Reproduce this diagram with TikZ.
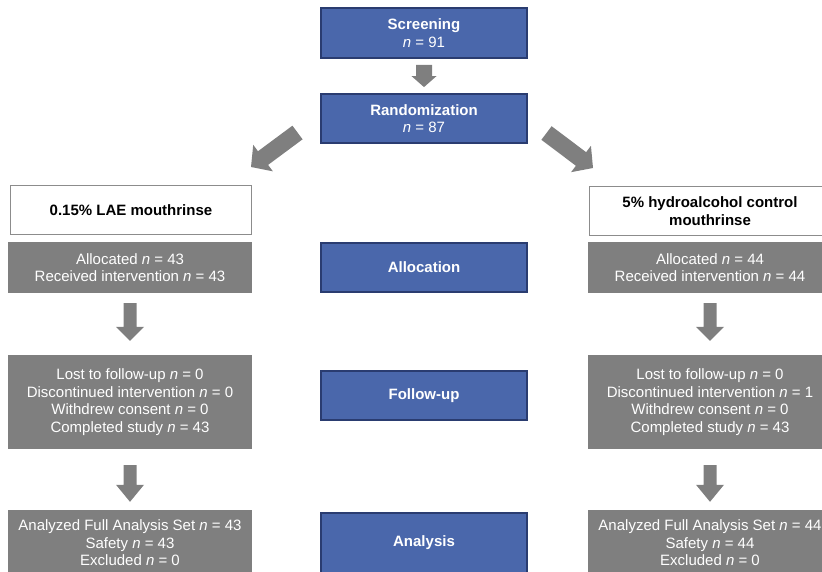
\documentclass[tikz,border=0pt]{standalone}
\usepackage{fontspec}
\setmainfont{Liberation Sans}
\usetikzlibrary{calc}
\definecolor{bluefill}{RGB}{74,103,171}
\definecolor{blueedge}{RGB}{42,60,112}
\definecolor{boxgray}{RGB}{127,127,127}
\definecolor{edgegray}{RGB}{140,140,140}
\newcommand\nn{\textit{n}}
\newcommand\blockarr[5]{%
  \coordinate (ba-b) at ($(#2)!#5!(#1)$);
  \fill[boxgray] ($(#1)!#3!90:(#2)$) -- ($(ba-b)!#3!90:(#2)$) -- ($(ba-b)!#4!90:(#2)$)
    -- (#2) -- ($(ba-b)!#4!-90:(#2)$) -- ($(ba-b)!#3!-90:(#2)$) -- ($(#1)!#3!-90:(#2)$) -- cycle;
}
\begin{document}
\begin{tikzpicture}[x=1pt,y=-1pt,
  every node/.style={font=\fontsize{15}{17.5}\selectfont, align=center, inner sep=0pt},
  stagebox/.style={fill=bluefill, draw=blueedge, line width=1.8pt, text=white,
    minimum width=206pt},
  armhead/.style={fill=white, draw=edgegray, line width=1.6pt, minimum width=241pt,
    minimum height=49pt, font=\fontsize{15}{17.5}\selectfont\bfseries},
  graybox/.style={fill=boxgray, text=white, minimum width=244pt}
]
\useasboundingbox (0,0) rectangle (822,571);
\clip (0,0) rectangle (822,571);

% central column
\node[stagebox, minimum height=50pt] (screen) at (424,33) {\textbf{Screening}\\\nn{} = 91};
\node[stagebox, minimum height=49pt] (rand) at (424,118.5) {\textbf{Randomization}\\\nn{} = 87};
\node[stagebox, minimum height=49pt] (alloc) at (424,267.5) {\textbf{Allocation}};
\node[stagebox, minimum height=49pt] (follow) at (424,395.5) {\textbf{Follow-up}};
\node[stagebox, minimum height=60pt] (anal) at (424,543) {\textbf{Analysis}};

% left arm
\node[armhead] (lhead) at (131,210) {0.15\% LAE mouthrinse};
\node[graybox, minimum height=51pt] (lalloc) at (130,267.5) {Allocated \nn{} = 43\\Received intervention \nn{} = 43};
\node[graybox, minimum height=94pt] (lfollow) at (130,402) {Lost to follow-up \nn{} = 0\\Discontinued intervention \nn{} = 0\\Withdrew consent \nn{} = 0\\Completed study \nn{} = 43};
\node[graybox, minimum height=66pt] (lanal) at (130,543) {Analyzed Full Analysis Set \nn{} = 43\\Safety \nn{} = 43\\Excluded \nn{} = 0};

% right arm
\node[armhead] (rhead) at (710,211) {5\% hydroalcohol control\\mouthrinse};
\node[graybox, minimum height=51pt] (ralloc) at (710,267.5) {Allocated \nn{} = 44\\Received intervention \nn{} = 44};
\node[graybox, minimum height=94pt] (rfollow) at (710,402) {Lost to follow-up \nn{} = 0\\Discontinued intervention \nn{} = 1\\Withdrew consent \nn{} = 0\\Completed study \nn{} = 43};
\node[graybox, minimum height=66pt] (ranal) at (710,543) {Analyzed Full Analysis Set \nn{} = 44\\Safety \nn{} = 44\\Excluded \nn{} = 0};

% arrow end points
\coordinate (s1) at ($(screen.south)+(0,6)$);
\coordinate (e1) at ($(rand.north)+(0,-6)$);
\coordinate (s2) at (297.5,132.5);
\coordinate (e2) at (251,167);
\coordinate (s3) at (546.5,133);
\coordinate (e3) at (593,168);
\coordinate (s4) at ($(lalloc.south)+(0,10)$);
\coordinate (e4) at ($(lfollow.north)+(0,-14)$);
\coordinate (s5) at ($(lfollow.south)+(0,16)$);
\coordinate (e5) at ($(lanal.north)+(0,-8)$);
\coordinate (s6) at ($(ralloc.south)+(0,10)$);
\coordinate (e6) at ($(rfollow.north)+(0,-14)$);
\coordinate (s7) at ($(rfollow.south)+(0,16)$);
\coordinate (e7) at ($(ranal.north)+(0,-8)$);

\blockarr{s1}{e1}{8pt}{12.5pt}{11pt}
\blockarr{s2}{e2}{8.5pt}{16.5pt}{15pt}
\blockarr{s3}{e3}{8.5pt}{16.5pt}{15pt}
\blockarr{s4}{e4}{6.5pt}{14pt}{14pt}
\blockarr{s5}{e5}{6.5pt}{14pt}{17pt}
\blockarr{s6}{e6}{6.5pt}{14pt}{14pt}
\blockarr{s7}{e7}{6.5pt}{14pt}{17pt}
\end{tikzpicture}
\end{document}
